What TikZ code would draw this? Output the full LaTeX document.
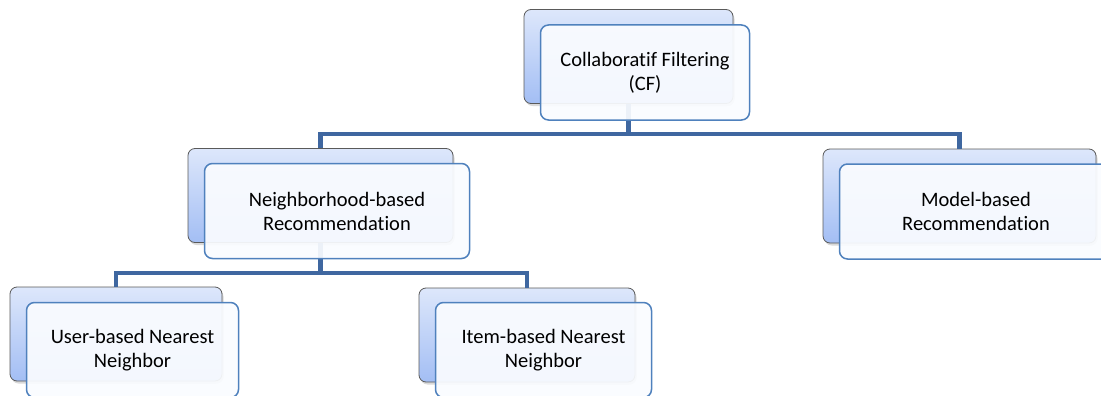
\documentclass[tikz,border=0pt]{standalone}
\usepackage{fontspec}
\setmainfont{Carlito}[Ligatures=NoCommon]
\usetikzlibrary{shadows}

\definecolor{backtop}{HTML}{DDE7FB}
\definecolor{backbot}{HTML}{A3BEF4}
\definecolor{backline}{HTML}{5A5A5A}
\definecolor{frontline}{HTML}{4F81BD}
\definecolor{frontfill}{HTML}{FAFCFF}
\definecolor{linkblue}{HTML}{3F67A0}

\begin{document}
\begin{tikzpicture}[x=1pt, y=-1pt]
\tikzset{ back/.style={rectangle, rounded corners=7pt, draw=backline, line width=0.8pt,
            top color=backtop, bottom color=backbot, minimum height=94pt,
            drop shadow={opacity=0.3, shadow xshift=1.5pt, shadow yshift=-2.5pt}},
          front/.style={rectangle, rounded corners=8pt, draw=frontline, line width=1.5pt,
            fill=frontfill, fill opacity=0.93, text opacity=1, minimum height=95pt,
            align=center, font=\fontsize{20.5}{24}\selectfont},
          link/.style={draw=linkblue, line width=4.5pt},
}
\clip (0,0) rectangle (1101,396);
%\draw [lightgray, dashed](0,0) grid[step=50] (1101,396);

% shaded boxes at the back
\node [back, minimum width=209pt] (CFb) at (628.5, 56.5) {};
\node [back, minimum width=265pt] (NBb) at (320.5,195.5) {};
\node [back, minimum width=273pt] (MBb) at (959.5,196.0) {};
\node [back, minimum width=212pt] (UBb) at (116.0,334.0) {};
\node [back, minimum width=216pt] (IBb) at (527.0,335.0) {};

% tree links
\draw [link] (CFb.south) -- ++(0,30) coordinate (CFj);
\draw [link] (NBb.north) |- (CFj) -| (MBb.north);
\draw [link] (NBb.south) -- ++(0,30) coordinate (NBj);
\draw [link] (UBb.north) |- (NBj) -| (IBb.north);

% text boxes in front
\node [front, minimum width=209pt] (CF) at (645.0, 72.5) {Collaboratif Filtering\\(CF)};
\node [front, minimum width=265pt] (NB) at (337.0,211.0) {Neighborhood-based\\Recommendation};
\node [front, minimum width=273pt] (MB) at (976.0,211.5) {Model-based\\Recommendation};
\node [front, minimum width=212pt] (UB) at (132.5,350.0) {User-based Nearest\\Neighbor};
\node [front, minimum width=216pt] (IB) at (543.5,350.0) {Item-based Nearest\\Neighbor};

\end{tikzpicture}
\end{document}
